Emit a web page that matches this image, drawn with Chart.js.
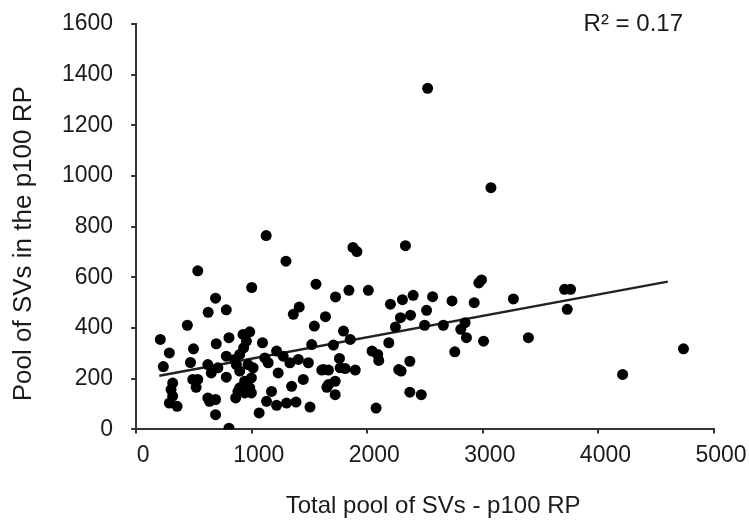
<!DOCTYPE html>
<html>
<head>
<meta charset="utf-8">
<script src="https://cdn.jsdelivr.net/npm/chart.js@4"></script>
<style>
  html, body { margin: 0; padding: 0; background: #fff; }
  #wrap { width: 749px; height: 523px; }
</style>
</head>
<body>
<div id="wrap"><canvas id="chart"></canvas></div>
<script>
// total pool of SVs (x) and pool in the p100 RP (y)
const totalPool = [
  2522, 3070, 1125, 1296, 1876, 1910, 2330, 1556, 1725, 1841, 2009, 2200, 2304, 2397, 2565, 2733, 2925, 2965, 2988, 533,
  1000, 687, 623, 780, 1411, 1360, 3264, 3707, 3759, 3730, 3006, 3394, 4209, 4736,
  1638, 1542, 443, 209, 287, 235, 496, 470, 693, 803, 780, 925, 983, 954, 930, 896, 1093, 1113, 1215, 1272,
  1330, 1403, 1490, 1519, 1620, 1664, 1446, 1345, 1229, 1171, 1128, 1215, 1301, 1383, 1504, 1064, 803, 687, 687, 635,
  620, 287, 354, 316, 316, 302, 490, 519, 533, 620, 650, 707, 780, 852, 867, 896, 968, 1012, 997, 939,
  896, 939, 997, 861, 881, 983, 1142,
  2513, 2287, 2374, 2243, 2496, 2658, 2846, 2809, 2858, 2757, 2186, 2041, 2090, 2099, 2368, 2272, 2293, 2368, 2467, 2076,
  1794, 1852, 1707, 1759, 1765, 1809, 1896, 1606, 1664, 1722, 1650, 1722
];
const rpPool = [
  1346, 954, 765, 664, 718, 702, 725, 573, 523, 549, 549, 494, 512, 529, 524, 507, 500, 578, 590, 626,
  560, 518, 462, 472, 483, 454, 515, 553, 553, 474, 348, 362, 217, 318,
  445, 408, 411, 355, 302, 248, 318, 264, 338, 362, 289, 375, 385, 348, 322, 296, 342, 282, 309, 289,
  263, 276, 263, 335, 236, 177, 197, 170, 223, 150, 111, 95, 104, 108, 88, 65, 5, 58, 118, 111,
  124, 104, 91, 131, 183, 157, 197, 166, 197, 256, 223, 243, 206, 276, 256, 230, 256, 243, 203, 190,
  164, 144, 144, 124, 150, 164, 263,
  470, 441, 451, 404, 411, 411, 421, 395, 362, 306, 342, 309, 296, 272, 269, 236, 230, 147, 137, 84,
  388, 355, 333, 280, 243, 240, 234, 234, 234, 190, 166, 137
];
const xTicks = [0, 1000, 2000, 3000, 4000, 5000];
const yTicks = [0, 200, 400, 600, 800, 1000, 1200, 1400, 1600];
const trendRange = [200, 4600];
const xTitle = 'Total pool of SVs - p100 RP';
const yTitle = 'Pool of SVs in the p100 RP';
const r2Label = 'R\u00b2 = 0.17';

const points = totalPool.map((x, i) => ({ x: x, y: rpPool[i] }));

// least squares fit, like the spreadsheet trendline
const n = points.length;
const mx = totalPool.reduce((a, b) => a + b, 0) / n;
const my = rpPool.reduce((a, b) => a + b, 0) / n;
let sxy = 0, sxx = 0;
points.forEach(p => { sxy += (p.x - mx) * (p.y - my); sxx += (p.x - mx) * (p.x - mx); });
const slope = sxy / sxx;
const intercept = my - slope * mx;
const trend = trendRange.map(x => ({ x: x, y: intercept + slope * x }));

const FONT = 'Liberation Sans, Arial, sans-serif';
const INK = '#1a1a1a';

// axis titles and R² drawn by hand so they can sit where the original has them
const textPlugin = {
  id: 'texts',
  afterDraw(chart) {
    const { ctx, chartArea } = chart;
    ctx.save();
    ctx.fillStyle = INK;
    ctx.textBaseline = 'middle';

    ctx.font = '24px ' + FONT;
    ctx.textAlign = 'right';
    ctx.fillText(r2Label, chartArea.right - 31, chartArea.top);

    ctx.textAlign = 'center';
    ctx.fillText(xTitle, (chartArea.left + chartArea.right) / 2 + 8, chartArea.bottom + 77);

    ctx.translate(24, (chartArea.top + chartArea.bottom) / 2 + 17);
    ctx.rotate(-Math.PI / 2);
    ctx.font = '26px ' + FONT;
    ctx.fillText(yTitle, 0, 0);
    ctx.restore();
  }
};

new Chart(document.getElementById('chart'), {
  type: 'scatter',
  data: {
    datasets: [
      {
        label: 'data',
        data: points,
        pointRadius: 5.5,
        pointBackgroundColor: '#000',
        pointBorderWidth: 0,
        showLine: false
      },
      {
        label: 'trend',
        data: trend,
        showLine: true,
        pointRadius: 0,
        borderColor: '#222',
        borderWidth: 2.5
      }
    ]
  },
  options: {
    responsive: true,
    maintainAspectRatio: false,
    animation: false,
    layout: { padding: { top: 24, right: 35, left: 44, bottom: 46 } },
    plugins: {
      legend: { display: false },
      tooltip: { enabled: false }
    },
    scales: {
      x: {
        type: 'linear',
        min: 0,
        max: 5000,
        afterBuildTicks: axis => { axis.ticks = xTicks.map(v => ({ value: v })); },
        afterFit: axis => { axis.paddingLeft = 0; axis.paddingRight = 0; },
        grid: { drawOnChartArea: false, drawTicks: true, tickLength: 4, color: '#333', lineWidth: 2 },
        border: { color: '#333', width: 2 },
        ticks: { color: INK, font: { family: FONT, size: 23 }, padding: 8, maxRotation: 0, labelOffset: 7, callback: v => String(v) }
      },
      y: {
        type: 'linear',
        min: 0,
        max: 1600,
        afterBuildTicks: axis => { axis.ticks = yTicks.map(v => ({ value: v })); },
        afterFit: axis => { axis.paddingTop = 0; axis.paddingBottom = 0; },
        grid: { drawOnChartArea: false, drawTicks: true, tickLength: 5, color: '#333', lineWidth: 2 },
        border: { color: '#333', width: 2 },
        ticks: { color: INK, font: { family: FONT, size: 23 }, padding: 18, callback: v => String(v) }
      }
    }
  },
  plugins: [textPlugin]
});
</script>
</body>
</html>
